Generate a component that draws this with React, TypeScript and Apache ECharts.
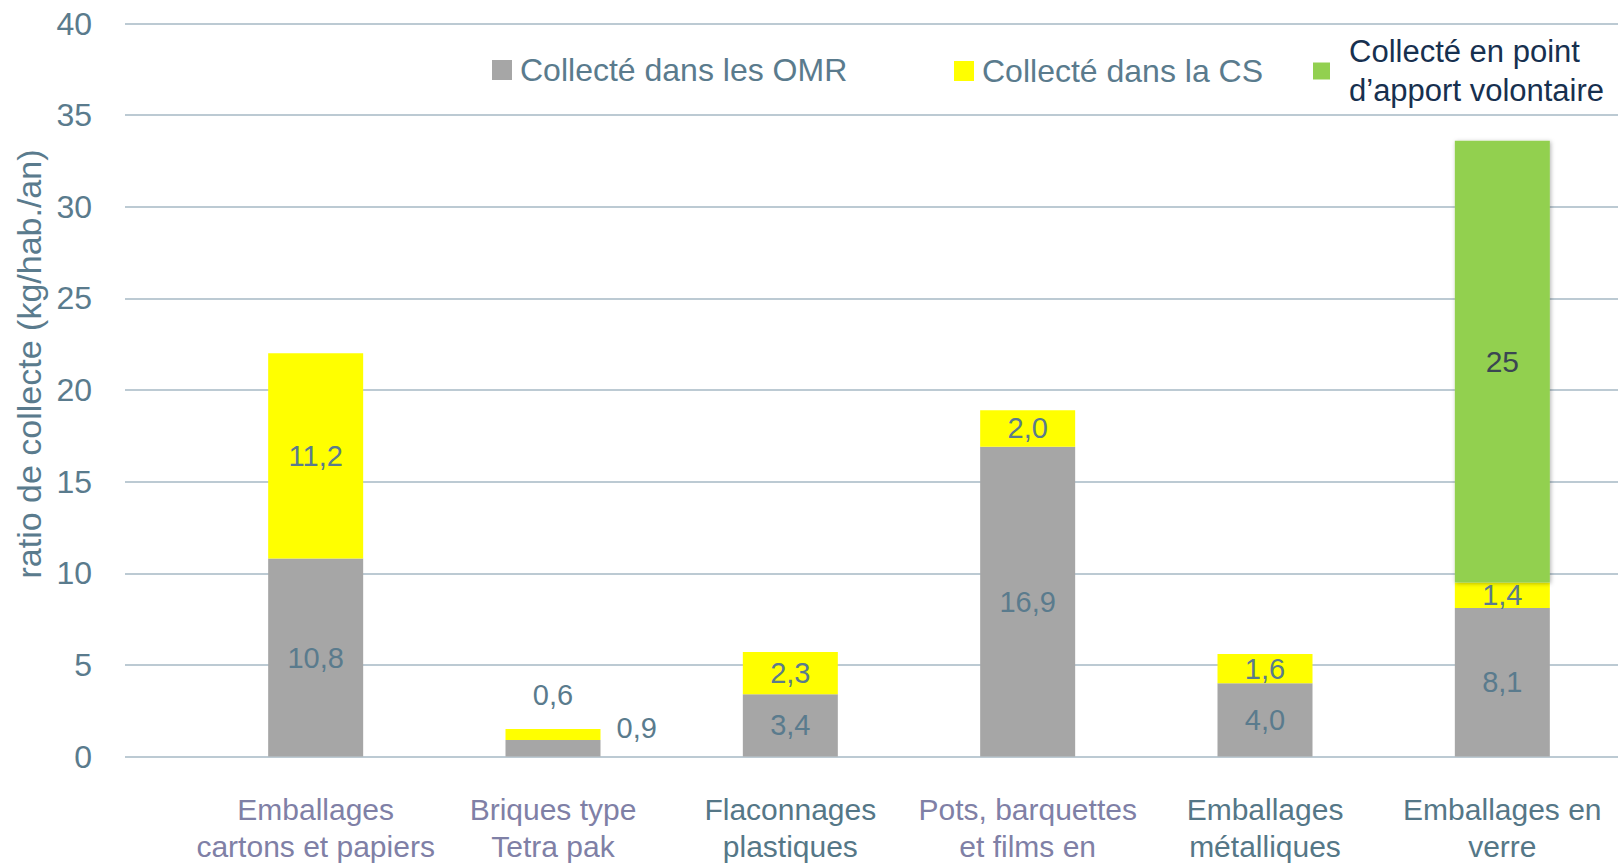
import { useEffect, useRef } from 'react';
import * as echarts from 'echarts';

const categories = [
  'Emballages\ncartons et papiers',
  'Briques type\nTetra pak',
  'Flaconnages\nplastiques',
  'Pots, barquettes\net films en',
  'Emballages\nmétalliques',
  'Emballages en\nverre',
];
const categoryColors = ['#7f80a6', '#7f80a6', '#557787', '#7f80a6', '#557787', '#557787'];

const seriesNames = [
  'Collecté dans les OMR',
  'Collecté dans la CS',
  'Collecté en point d’apport volontaire',
];

const omr = [10.8, 0.9, 3.4, 16.9, 4.0, 8.1];
const cs = [11.2, 0.6, 2.3, 2.0, 1.6, 1.4];
const apport = [null, null, null, null, null, 24.1];
const apportLabels = ['', '', '', '', '', '25'];

const yMin = 0;
const yMax = 40;
const yStep = 5;

const FONT = "'Liberation Sans', Arial, sans-serif";
const SLATE = '#5a7b8d';
const GRID_COLOR = '#a6b8c5';

const fmt = (v: number) => v.toFixed(1).replace('.', ',');

export default function App() {
  const ref = useRef<HTMLDivElement>(null);

  useEffect(() => {
    const chart = echarts.init(ref.current!, null, { renderer: 'svg' });

    const labelBase = {
      show: true,
      position: 'inside',
      fontSize: 29,
      fontFamily: FONT,
      color: SLATE,
    };

    const option: any = {
      animation: false,
      backgroundColor: '#ffffff',
      textStyle: { fontFamily: FONT },
      grid: [
        { left: 197, right: -3, top: 23.5, bottom: 109.5, outerBoundsMode: 'none', containLabel: false },
        { left: 125, right: 0, top: 23.5, bottom: 109.5, outerBoundsMode: 'none', containLabel: false },
      ],
      legend: [
        {
          data: [seriesNames[0]],
          left: 492,
          top: 52,
          padding: 0,
          itemWidth: 20,
          itemHeight: 20,
          icon: 'rect',
          selectedMode: false,
          textStyle: { fontSize: 32, color: SLATE, fontFamily: FONT, lineHeight: 36, padding: [0, 0, 0, 3] },
        },
        {
          data: [seriesNames[1]],
          left: 954,
          top: 53,
          padding: 0,
          itemWidth: 20,
          itemHeight: 20,
          icon: 'rect',
          selectedMode: false,
          textStyle: { fontSize: 32, color: SLATE, fontFamily: FONT, lineHeight: 36, padding: [0, 0, 0, 3] },
        },
        {
          data: [seriesNames[2]],
          left: 1313,
          top: 32,
          padding: 0,
          itemWidth: 17,
          itemHeight: 17,
          icon: 'rect',
          selectedMode: false,
          formatter: (name: string) => name.replace('point ', 'point\n'),
          textStyle: { fontSize: 31, color: '#17304f', fontFamily: FONT, lineHeight: 39, padding: [0, 0, 0, 14] },
        },
      ],
      xAxis: [
        {
          type: 'category',
          gridIndex: 0,
          data: categories.map((c, i) => ({ value: c, textStyle: { color: categoryColors[i] } })),
          axisLine: { show: false },
          axisTick: { show: false },
          axisLabel: {
            interval: 0,
            fontSize: 30,
            lineHeight: 37,
            margin: 34,
            fontFamily: FONT,
          },
        },
        {
          type: 'value',
          gridIndex: 1,
          show: false,
          min: 0,
          max: 1,
        },
      ],
      yAxis: [
        {
          type: 'value',
          gridIndex: 0,
          min: yMin,
          max: yMax,
          interval: yStep,
          show: false,
          splitLine: { show: false },
        },
        {
          type: 'value',
          gridIndex: 1,
          min: yMin,
          max: yMax,
          interval: yStep,
          axisLine: { show: false },
          axisTick: { show: false },
          axisLabel: { fontSize: 32, color: SLATE, margin: 33, fontFamily: FONT },
          splitLine: { show: true, lineStyle: { color: GRID_COLOR, width: 1.5 } },
          name: 'ratio de collecte (kg/hab./an)',
          nameLocation: 'middle',
          nameGap: 78,
          nameTextStyle: { fontSize: 34, color: SLATE, fontFamily: FONT, padding: [0, 0, 0, 52] },
        },
      ],
      series: [
        {
          name: seriesNames[0],
          type: 'bar',
          stack: 'total',
          xAxisIndex: 0,
          yAxisIndex: 0,
          barWidth: 95,
          itemStyle: { color: '#a6a6a6' },
          label: { ...labelBase, formatter: (p: any) => fmt(p.value) },
          data: omr.map((v, i) =>
            i === 1 ? { value: v, label: { position: 'right', distance: 16, offset: [0, -20] } } : v
          ),
        },
        {
          name: seriesNames[1],
          type: 'bar',
          stack: 'total',
          xAxisIndex: 0,
          yAxisIndex: 0,
          barWidth: 95,
          itemStyle: { color: '#ffff00' },
          label: { ...labelBase, formatter: (p: any) => fmt(p.value) },
          data: cs.map((v, i) => (i === 1 ? { value: v, label: { position: 'top', distance: 20 } } : v)),
        },
        {
          name: seriesNames[2],
          type: 'bar',
          stack: 'total',
          xAxisIndex: 0,
          yAxisIndex: 0,
          barWidth: 95,
          itemStyle: {
            color: '#92d050',
            shadowColor: 'rgba(0,0,0,0.3)',
            shadowBlur: 4,
            shadowOffsetX: 1,
            shadowOffsetY: 1,
          },
          label: {
            ...labelBase,
            color: '#3b4652',
            fontSize: 30,
            formatter: (p: any) => apportLabels[p.dataIndex],
          },
          data: apport,
        },
      ],
    };

    chart.setOption(option);
    return () => chart.dispose();
  }, []);

  return (
    <div
      ref={ref}
      style={{ position: 'absolute', left: 0, top: 0, width: 1618, height: 866 }}
    />
  );
}
